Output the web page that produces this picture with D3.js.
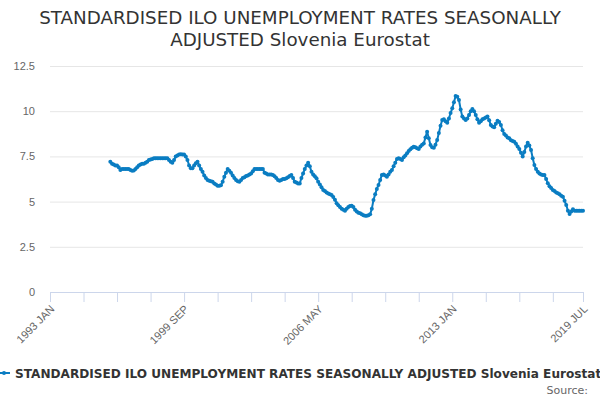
<!DOCTYPE html>
<html>
<head>
<meta charset="utf-8">
<script src="https://cdn.jsdelivr.net/npm/d3@7/dist/d3.min.js"></script>
<style>
  html, body { margin: 0; padding: 0; background: #fff; }
  svg { display: block; font-family: 'DejaVu Sans', sans-serif; }
</style>
</head>
<body>
<div id="chart"></div>
<script>
// monthly values, 1996 JAN .. 2019 JUL (category axis runs from 1993 JAN)
const startYear = 1993;
const firstDataYear = 1996;
const values1996 = [7.2, 7.1, 7.05, 7.0, 7.0, 6.9, 6.75, 6.8, 6.8, 6.8, 6.8, 6.8];
const values1997 = [6.75, 6.7, 6.72, 6.8, 6.9, 7.0, 7.05, 7.1, 7.1, 7.15, 7.2, 7.3];
const values1998 = [7.33, 7.36, 7.4, 7.4, 7.4, 7.4, 7.4, 7.4, 7.4, 7.4, 7.4, 7.3];
const values1999 = [7.2, 7.15, 7.3, 7.5, 7.55, 7.6, 7.62, 7.6, 7.6, 7.5, 7.3, 7.0];
const values2000 = [6.85, 6.85, 7.0, 7.12, 7.2, 7.0, 6.8, 6.65, 6.45, 6.3, 6.2, 6.15];
const values2001 = [6.12, 6.1, 6.0, 5.95, 5.88, 5.88, 5.9, 6.1, 6.38, 6.6, 6.8, 6.7];
const values2002 = [6.6, 6.45, 6.3, 6.2, 6.12, 6.1, 6.2, 6.3, 6.35, 6.42, 6.45, 6.5];
const values2003 = [6.56, 6.68, 6.8, 6.8, 6.8, 6.8, 6.8, 6.8, 6.6, 6.55, 6.5, 6.5];
const values2004 = [6.5, 6.47, 6.4, 6.3, 6.2, 6.16, 6.2, 6.25, 6.25, 6.29, 6.35, 6.42];
const values2005 = [6.47, 6.3, 6.1, 6.05, 6.0, 6.0, 6.3, 6.56, 6.8, 7.0, 7.15, 6.95];
const values2006 = [6.65, 6.5, 6.4, 6.29, 6.1, 5.95, 5.8, 5.64, 5.58, 5.5, 5.45, 5.4];
const values2007 = [5.37, 5.25, 5.1, 4.91, 4.8, 4.7, 4.6, 4.55, 4.5, 4.6, 4.7, 4.75];
const values2008 = [4.77, 4.7, 4.55, 4.45, 4.39, 4.35, 4.3, 4.25, 4.22, 4.22, 4.25, 4.3];
const values2009 = [4.6, 5.09, 5.4, 5.7, 5.92, 6.2, 6.47, 6.5, 6.45, 6.38, 6.5, 6.65];
const values2010 = [6.75, 6.95, 7.15, 7.36, 7.4, 7.35, 7.3, 7.45, 7.55, 7.67, 7.8, 7.9];
const values2011 = [7.98, 8.04, 8.0, 7.95, 7.91, 8.05, 8.15, 8.22, 8.55, 8.87, 8.5, 8.13];
const values2012 = [8.0, 7.98, 8.15, 8.41, 8.8, 9.2, 9.51, 9.55, 9.45, 9.36, 9.6, 9.9];
const values2013 = [10.16, 10.5, 10.84, 10.8, 10.62, 10.1, 9.7, 9.6, 9.51, 9.6, 9.79, 10.0];
const values2014 = [10.12, 10.0, 9.79, 9.55, 9.36, 9.45, 9.55, 9.6, 9.65, 9.7, 9.5, 9.24];
const values2015 = [9.15, 9.11, 9.3, 9.47, 9.4, 9.24, 8.95, 8.74, 8.65, 8.55, 8.5, 8.4];
const values2016 = [8.35, 8.31, 8.2, 8.05, 7.91, 7.7, 7.49, 7.75, 8.05, 8.26, 8.1, 7.85];
const values2017 = [7.4, 7.02, 6.8, 6.65, 6.55, 6.5, 6.47, 6.47, 6.25, 6.01, 5.85, 5.75];
const values2018 = [5.64, 5.58, 5.5, 5.46, 5.4, 5.32, 5.27, 5.05, 4.81, 4.5, 4.31, 4.45];
const values2019 = [4.57, 4.5, 4.5, 4.5, 4.5, 4.5, 4.5];

const monthNames = ['JAN', 'FEB', 'MAR', 'APR', 'MAY', 'JUN', 'JUL', 'AUG', 'SEP', 'OCT', 'NOV', 'DEC'];
const xLabels = ['1993 JAN', '1999 SEP', '2006 MAY', '2013 JAN', '2019 JUL'];
const yTicks = [0, 2.5, 5, 7.5, 10, 12.5];

const seriesName = 'STANDARDISED ILO UNEMPLOYMENT RATES SEASONALLY ADJUSTED Slovenia Eurostat';
const titleLines = ['STANDARDISED ILO UNEMPLOYMENT RATES SEASONALLY', 'ADJUSTED Slovenia Eurostat'];

const allValues = [].concat(values1996, values1997, values1998, values1999, values2000,
  values2001, values2002, values2003, values2004, values2005, values2006, values2007,
  values2008, values2009, values2010, values2011, values2012, values2013, values2014,
  values2015, values2016, values2017, values2018, values2019);

// category list 1993 JAN .. 2019 JUL
const categories = [];
for (let y = startYear; y <= 2019; y++) {
  for (let m = 0; m < 12; m++) {
    if (y === 2019 && m > 6) break;
    categories.push(y + ' ' + monthNames[m]);
  }
}
const offset = (firstDataYear - startYear) * 12;
const data = allValues.map((v, i) => ({ idx: offset + i, value: v }));

const width = 600, height = 400;
const margin = { top: 66, right: 17, bottom: 108, left: 50 };
const color = '#0a7dc2';

const svg = d3.select('#chart').append('svg').attr('width', width).attr('height', height);

const x = d3.scaleLinear().domain([0, categories.length - 1]).range([margin.left, width - margin.right]);
const y = d3.scaleLinear().domain([0, 12.5]).range([height - margin.bottom, margin.top]);

// title
svg.append('g').selectAll('text').data(titleLines).enter().append('text')
  .attr('x', width / 2)
  .attr('y', (d, i) => 24 + i * 21.5)
  .attr('text-anchor', 'middle')
  .style('font-size', '18.3px')
  .style('fill', '#333')
  .text(d => d);

// grid + y labels
const yAxis = svg.append('g').attr('transform', `translate(${margin.left},0)`)
  .call(d3.axisLeft(y).tickValues(yTicks).tickFormat(d => String(d))
    .tickSize(-(width - margin.left - margin.right)));
yAxis.select('.domain').remove();
yAxis.selectAll('.tick line').attr('stroke', '#e6e6e6');
yAxis.selectAll('.tick text').style('font-size', '11px').style('fill', '#666').attr('x', -15);
yAxis.selectAll('.tick').filter(d => d === 0).select('line').remove();

// x axis: ticks every 20 categories plus the last one
const tickIdx = d3.range(0, categories.length, 20).concat([categories.length - 1]);
const labelIdx = xLabels.map(l => categories.indexOf(l));
const xAxis = svg.append('g').attr('transform', `translate(0,${height - margin.bottom})`)
  .call(d3.axisBottom(x).tickValues(tickIdx).tickSize(10).tickSizeOuter(0)
    .tickFormat(i => labelIdx.includes(i) ? categories[i] : ''));
xAxis.select('.domain').attr('stroke', '#ccd6eb');
xAxis.selectAll('.tick line').attr('stroke', '#ccd6eb');
xAxis.selectAll('.tick text')
  .style('font-size', '11px').style('fill', '#666')
  .attr('text-anchor', 'end')
  .attr('dy', '0.35em')
  .attr('transform', 'translate(2,15) rotate(-45)')
  .attr('y', 0).attr('x', 0);

// line + markers
const line = d3.line().x(d => x(d.idx)).y(d => y(d.value));
svg.append('path').datum(data)
  .attr('fill', 'none').attr('stroke', color).attr('stroke-width', 2)
  .attr('stroke-linejoin', 'round')
  .attr('d', line);
svg.append('g').selectAll('circle').data(data).enter().append('circle')
  .attr('cx', d => x(d.idx)).attr('cy', d => y(d.value))
  .attr('r', 2).attr('fill', color);

// legend
const lg = svg.append('g').attr('transform', 'translate(0,373)');
lg.append('line').attr('x1', -2).attr('x2', 10).attr('y1', 0).attr('y2', 0)
  .attr('stroke', color).attr('stroke-width', 2);
lg.append('circle').attr('cx', 4).attr('cy', 0).attr('r', 2).attr('fill', color);
lg.append('text').attr('x', 15).attr('y', 5)
  .style('font-size', '12.1px').style('font-weight', 'bold').style('fill', '#333')
  .text(seriesName);

svg.append('text').attr('x', 588).attr('y', 394).attr('text-anchor', 'end')
  .style('font-size', '11px').style('fill', '#666').text('Source:');
</script>
</body>
</html>
